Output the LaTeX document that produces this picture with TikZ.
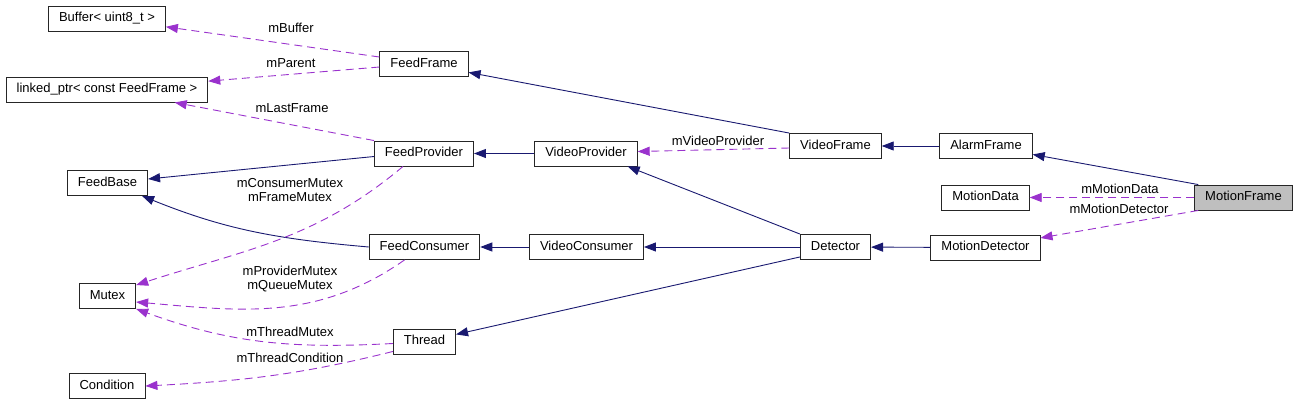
\documentclass[tikz,border=0pt]{standalone}
\usepackage{fontspec}
\setmainfont{Liberation Sans}
\usetikzlibrary{arrows.meta}
\definecolor{navy}{HTML}{191970}
\definecolor{orchid}{HTML}{9A32CD}
\definecolor{selgray}{HTML}{BFBFBF}

\begin{document}
\begin{tikzpicture}[x=1pt, y=1pt, >={Triangle[length=12pt,width=9pt]},
	cls/.style={draw=black!85, line width=0.9pt, fill=white, minimum height=25pt, inner xsep=10.5pt, inner ysep=0pt, text height=9.5pt, text depth=2.7pt, font=\fontsize{13}{15}\selectfont},
	lbl/.style={inner sep=0pt, align=center, font=\fontsize{13}{14}\selectfont},
	inh/.style={->, draw=navy, line width=0.9pt},
	dep/.style={->, draw=orchid, line width=0.9pt, dash pattern=on 8pt off 5pt}]
	\useasboundingbox (0,0) rectangle (1299,-405);

	\node (buf) [cls] at (107,-18.5) {Buffer< uint8\_t >};
	\node (ff) [cls] at (424,-64) {FeedFrame};
	\node (lp) [cls] at (107,-89.5) {linked\_ptr< const FeedFrame >};
	\node (fp) [cls] at (424,-153.5) {FeedProvider};
	\node (vp) [cls] at (586,-153.5) {VideoProvider};
	\node (vf) [cls] at (835.5,-146) {VideoFrame};
	\node (af) [cls] at (986,-146) {AlarmFrame};
	\node (fb) [cls] at (107.5,-183) {FeedBase};
	\node (md) [cls] at (985.5,-197.5) {MotionData};
	\node (mf) [cls, fill=selgray] at (1243.5,-197.5) {MotionFrame};
	\node (fc) [cls] at (424.5,-247) {FeedConsumer};
	\node (vc) [cls] at (586.5,-247) {VideoConsumer};
	\node (det) [cls] at (835.5,-247) {Detector};
	\node (mdet) [cls] at (985.5,-247.5) {MotionDetector};
	\node (mtx) [cls] at (107.5,-296) {Mutex};
	\node (thr) [cls] at (424.5,-341.5) {Thread};
	\node (cond) [cls] at (107,-386) {Condition};

	\draw[inh] (vf.north west) -- (ff);
	\draw[inh] (af) -- (vf);
	\draw[inh] ([xshift=4pt]mf.north west) -- (af);
	\draw[inh] (vp) -- (fp);
	\draw[inh] ([yshift=-3pt]fp.west) -- (fb);
	\draw[inh] (fc.west) to[out=175, in=-22] ([xshift=-6pt]fb.south east);
	\draw[inh] (det.north west) -- ([xshift=-10pt]vp.south east);
	\draw[inh] (vc) -- (fc);
	\draw[inh] (det) -- (vc);
	\draw[inh] ([yshift=3pt]det.south west) -- (thr);
	\draw[inh] (mdet) -- (det);

	\draw[dep] ([yshift=7pt]ff.west) -- (buf);
	\draw[dep] ([yshift=-3pt]ff.west) -- (lp);
	\draw[dep] (fp.north west) -- (lp);
	\draw[dep] ([xshift=-21pt]fp.south) to[out=-140, in=18] ([yshift=-2pt]mtx.north east);
	\draw[dep] ([xshift=-20pt]fc.south) to[out=-145, in=-5] ([yshift=-6pt]mtx.east);
	\draw[dep] ([yshift=-2pt]thr.west) to[out=183, in=-20] (mtx.south east);
	\draw[dep] ([yshift=3pt]thr.south west) to[out=194, in=3] (cond.east);
	\draw[dep] ([yshift=-2pt]vf.west) -- ([yshift=2pt]vp.east);
	\draw[dep] (mf) -- (md);
	\draw[dep] ([xshift=4pt]mf.south west) -- (mdet);

	\node (lbuf) [lbl] at (291,-28) {mBuffer};
	\node (lpar) [lbl] at (291,-63) {mParent};
	\node (llast) [lbl] at (292,-108) {mLastFrame};
	\node (lcons) [lbl] at (290,-190) {mConsumerMutex\\mFrameMutex};
	\node (lprov) [lbl] at (290,-279.5) {mProviderMutex\\mQueueMutex};
	\node (ltmtx) [lbl] at (290,-332) {mThreadMutex};
	\node (ltcond) [lbl] at (290,-358) {mThreadCondition};
	\node (lvp) [lbl] at (718,-141) {mVideoProvider};
	\node (lmd) [lbl] at (1120,-189) {mMotionData};
	\node (lmdet) [lbl] at (1119,-209) {mMotionDetector};
\end{tikzpicture}
\end{document}
